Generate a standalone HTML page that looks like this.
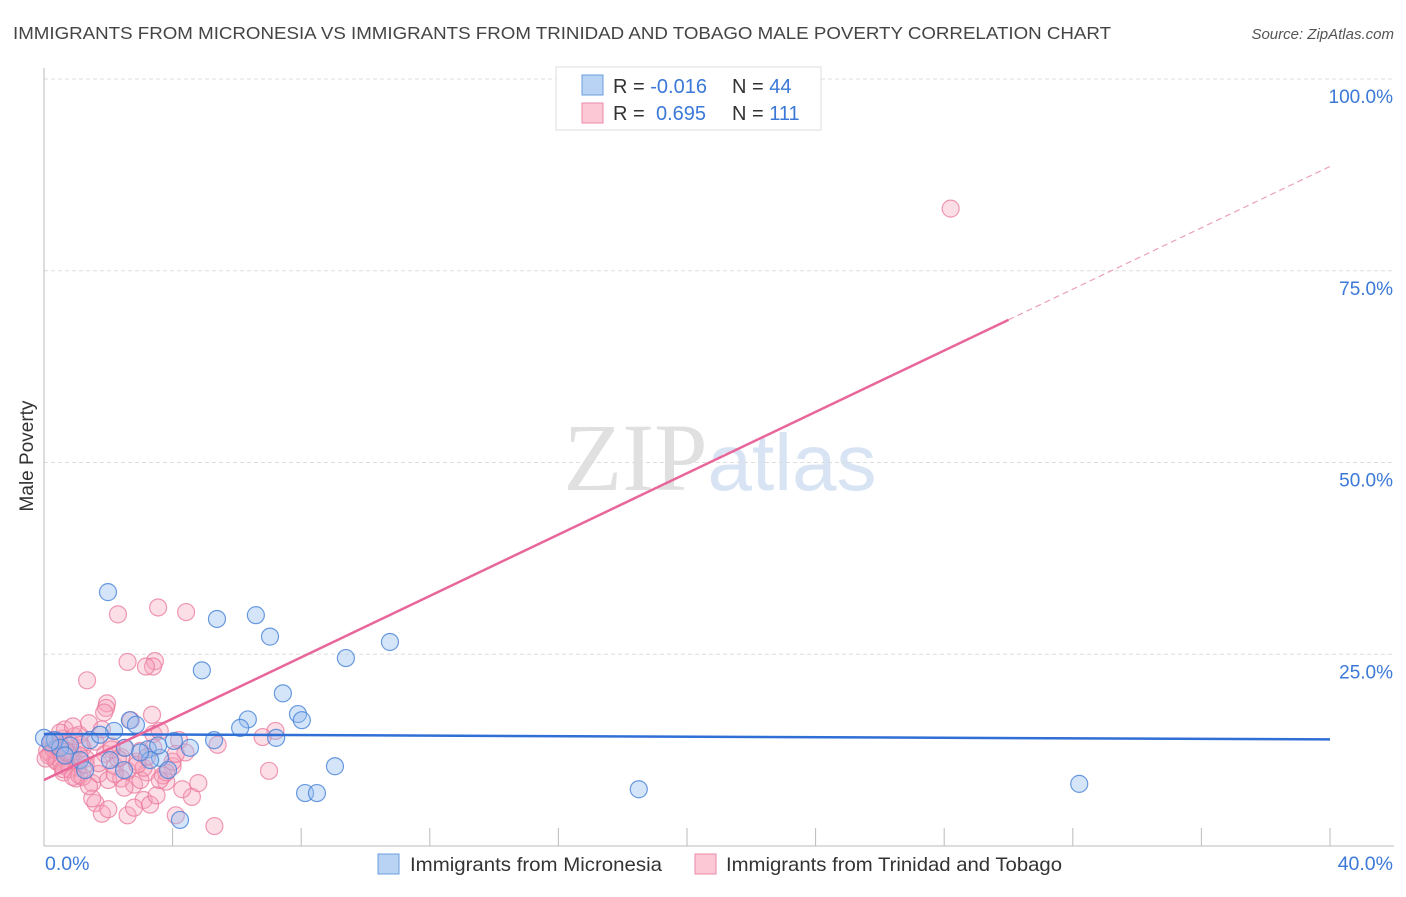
<!DOCTYPE html>
<html><head><meta charset="utf-8"><style>
body{margin:0;background:#fff;font-family:"Liberation Sans",sans-serif;}
svg text{font-family:"Liberation Sans",sans-serif;}
</style></head><body>
<svg id="chart" width="1406" height="892" xmlns="http://www.w3.org/2000/svg">
<text x="13" y="39" font-size="17.5" fill="#444" textLength="1098" lengthAdjust="spacingAndGlyphs">IMMIGRANTS FROM MICRONESIA VS IMMIGRANTS FROM TRINIDAD AND TOBAGO MALE POVERTY CORRELATION CHART</text>
<text x="1394" y="39" font-size="15" fill="#555" font-style="italic" text-anchor="end">Source: ZipAtlas.com</text>
<text x="720" y="490" font-size="96" text-anchor="middle"><tspan fill="#e0e0e0" font-family="Liberation Serif">ZIP</tspan><tspan fill="#d8e4f4" font-size="80">atlas</tspan></text>
<text transform="translate(33,456) rotate(-90)" font-size="19" fill="#333" text-anchor="middle">Male Poverty</text>
<g id="grid"></g><g id="marks"></g><g id="lines"></g>
<g>
<rect x="556" y="67" width="265" height="63" fill="#fff" stroke="#ddd"/>
<rect x="582" y="75" width="21" height="20" fill="#b9d3f5" stroke="#6a9ee0"/>
<rect x="582" y="103" width="21" height="20" fill="#fcc8d6" stroke="#eb8aa8"/>
<text x="613" y="93" font-size="20" fill="#333">R = <tspan fill="#3b78d8">-0.016</tspan></text>
<text x="732" y="93" font-size="20" fill="#333">N = <tspan fill="#3b78d8">44</tspan></text>
<text x="613" y="120" font-size="20" fill="#333">R =  <tspan fill="#3b78d8" x="656">0.695</tspan></text>
<text x="732" y="120" font-size="20" fill="#333">N = <tspan fill="#3b78d8">111</tspan></text>
</g>
<g>
<rect x="378" y="854" width="21" height="20" fill="#b9d3f5" stroke="#6a9ee0"/>
<text x="410" y="871" font-size="19.5" fill="#333" textLength="252" lengthAdjust="spacingAndGlyphs">Immigrants from Micronesia</text>
<rect x="695" y="854" width="21" height="20" fill="#fcc8d6" stroke="#eb8aa8"/>
<text x="726" y="871" font-size="19.5" fill="#333" textLength="336" lengthAdjust="spacingAndGlyphs">Immigrants from Trinidad and Tobago</text>
</g>
</svg>
<script>
const yTicks=[25,50,75,100];
const xTickLabels=["0.0%","40.0%"];
const blueX=[1.99,5.38,6.59,7.03,4.91,9.39,10.76,7.43,7.90,8.02,6.34,6.10,7.22,5.29,2.67,2.86,2.18,3.23,3.61,3.86,4.04,4.54,2.05,2.49,1.43,0,0.34,0.81,9.05,8.12,8.49,18.5,32.2,4.23,1.74,0.5,1.12,2.52,3.55,0.19,0.65,1.28,3.30,2.99];
const blueY=[33.1,29.6,30.1,27.3,22.9,24.5,26.6,19.9,17.2,16.4,16.5,15.4,14.1,13.8,16.4,15.8,15.0,12.6,11.5,9.9,13.7,12.8,11.2,9.9,13.8,14.1,13.8,13.1,10.4,6.9,6.9,7.4,8.1,3.4,14.5,12.8,11.2,12.8,13.1,13.5,11.8,9.9,11.2,12.2];
const pinkX=[28.2,2.3,3.55,4.42,2.6,3.45,3.39,3.17,1.34,1.96,1.93,1.87,3.36,0.2,0.3,0.4,0.5,0.6,0.7,0.8,0.9,1.0,1.1,1.2,0.25,0.35,0.45,0.55,0.65,0.75,0.85,0.95,1.05,1.15,0.1,0.15,0.2,0.3,0.4,0.5,0.6,0.7,0.8,0.9,1.0,1.1,1.3,1.4,1.5,1.6,1.7,1.8,1.9,2.0,2.1,2.2,2.4,2.5,2.6,2.7,2.8,2.9,3.0,3.1,3.2,3.4,3.6,3.8,4.0,4.2,4.4,4.6,4.8,5.3,5.4,7.0,7.2,6.8,1.6,1.5,1.8,2.0,2.6,2.8,3.0,3.3,3.5,3.7,4.1,4.3,1.2,1.3,1.4,2.3,2.4,2.5,3.1,3.4,3.8,4.0,0.6,0.9,1.1,1.7,2.1,2.2,2.9,3.2,3.6,4.1,0.05];
const pinkY=[83.1,30.2,31.1,30.5,24.0,24.1,23.4,23.4,21.6,18.6,18.0,17.4,17.1,12.0,13.0,11.5,12.5,14.0,11.0,13.5,12.2,10.8,14.5,12.8,13.8,11.2,12.9,10.5,15.2,12.0,11.7,14.3,10.2,13.2,12.4,11.8,13.4,12.6,11.0,14.8,9.6,12.3,10.0,15.6,8.8,9.2,11.4,16.0,8.2,13.6,9.4,15.2,12.0,8.6,13.0,10.4,11.6,12.8,9.8,16.4,8.0,11.0,12.4,6.0,9.6,14.6,15.0,8.4,10.4,13.8,12.2,6.4,8.2,2.6,13.2,9.8,15.0,14.2,5.6,6.2,4.2,4.8,4.0,5.0,8.6,5.4,6.6,9.2,4.0,7.4,9.0,10.6,7.8,11.4,8.8,7.6,10.2,12.8,9.6,11.0,10.0,9.0,11.8,10.8,12.6,9.4,10.6,11.6,8.6,12.0,11.4];
const blueTrend=[14.6,13.9];
const pinkTrend=[8.6,88.6];
const X0=44,X1=1330,Y0=846,Y100=79;
const sx=v=>X0+(v/40)*(X1-X0);
const sy=v=>Y0-(v/100)*(Y0-Y100);
const NS="http://www.w3.org/2000/svg";
function mk(tag,attrs,parent){const e=document.createElementNS(NS,tag);for(const k in attrs)e.setAttribute(k,attrs[k]);parent.appendChild(e);return e;}
const grid=document.getElementById('grid'),marks=document.getElementById('marks'),lines=document.getElementById('lines');
yTicks.forEach(t=>{
 const l=mk('line',{x1:X0,x2:1394,y1:sy(t),y2:sy(t),stroke:'#ddd','stroke-dasharray':'4,3'},grid);
 
 
 const tx=mk('text',{x:1393,y:sy(t)+24,'font-size':19,fill:'#3b78d8','text-anchor':'end'},grid);
 tx.textContent=t.toFixed(1)+'%';
 
 
});
const ax=mk('line',{x1:X0,x2:X0,y1:68,y2:Y0,stroke:'#bbb'},grid);


const bx=mk('line',{x1:X0,x2:1394,y1:Y0,y2:Y0,stroke:'#bbb'},grid);


for(let i=1;i<=10;i++){const t=mk('line',{x1:sx(i*4),x2:sx(i*4),y1:Y0-18,y2:Y0,stroke:'#bbb'},grid);
 
 }
[[0,'start',45],[40,'end',1393]].forEach((d,i)=>{const t=mk('text',{x:d[2],y:870,'font-size':19.5,fill:'#3b78d8','text-anchor':d[1]},grid);t.textContent=xTickLabels[i];
 
 });
pinkX.forEach((x,i)=>{const c=mk('circle',{cx:sx(x),cy:sy(pinkY[i]),r:8.5,fill:'rgba(246,160,186,0.35)',stroke:'rgba(234,120,155,0.75)','stroke-width':1.2},marks);
 
 });
blueX.forEach((x,i)=>{const c=mk('circle',{cx:sx(x),cy:sy(blueY[i]),r:8.5,fill:'rgba(150,190,240,0.4)',stroke:'rgba(70,130,215,0.8)','stroke-width':1.2},marks);
 
 });
const bl=mk('line',{x1:sx(0),y1:sy(blueTrend[0]),x2:sx(40),y2:sy(blueTrend[1]),stroke:'#2f6fd6','stroke-width':2.5},lines);


const py=x=>pinkTrend[0]+(pinkTrend[1]-pinkTrend[0])*x/40;
const pl=mk('line',{x1:sx(0),y1:sy(py(0)),x2:sx(30),y2:sy(py(30)),stroke:'#e8669a','stroke-width':2.5},lines);


const pd=mk('line',{x1:sx(30),y1:sy(py(30)),x2:sx(40),y2:sy(py(40)),stroke:'#eaa0bd','stroke-width':1.2,'stroke-dasharray':'6,4'},lines);


</script>
</body></html>
